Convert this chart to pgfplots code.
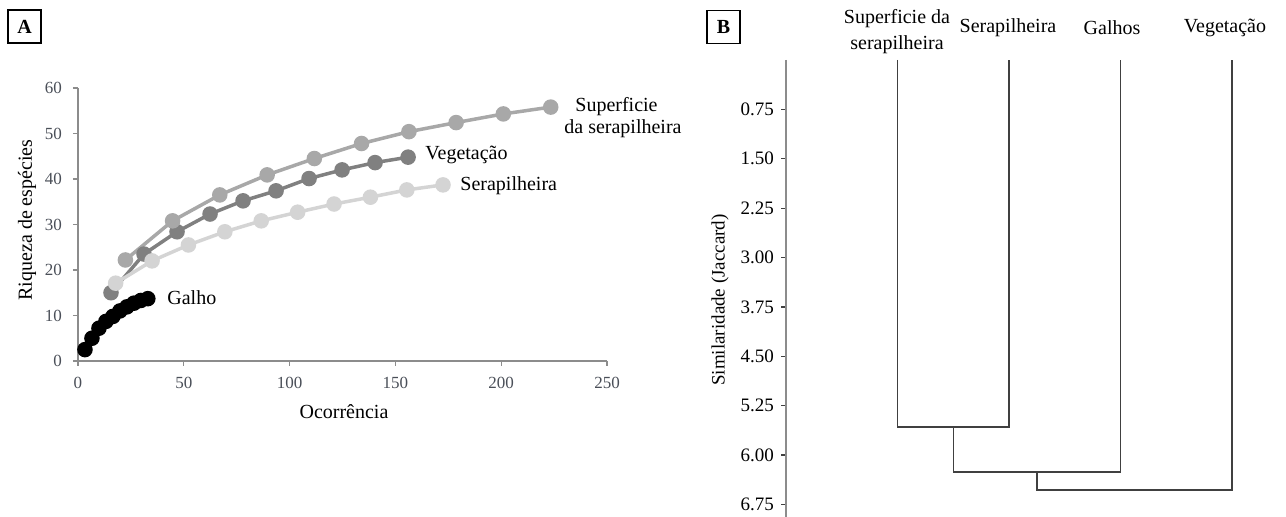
\documentclass[border=0pt]{standalone}
\usepackage{fontspec}
\setmainfont{Liberation Serif}
\usepackage{pgfplots}
\pgfplotsset{compat=1.18}
\definecolor{cSup}{HTML}{A8A8A8}
\definecolor{cVeg}{HTML}{808080}
\definecolor{cSer}{HTML}{D4D4D4}
\definecolor{tickgray}{HTML}{4A4F58}
\definecolor{axgray}{HTML}{8C8C8C}
\definecolor{dendro}{HTML}{404040}
\def\px#1#2{({#1*0.5pt},{(517-#2)*0.5pt})}
\begin{document}
\begin{tikzpicture}
\useasboundingbox (0,0) rectangle (643pt,258.5pt);
% Panel A
\begin{axis}[at={(39pt,78pt)}, anchor=south west, scale only axis,
  width=264.5pt, height=136.5pt,
  xmin=0, xmax=250, ymin=0, ymax=60,
  axis x line*=bottom, axis y line*=left,
  axis line style={draw=axgray, line width=1pt, -},
  xtick={0,50,...,250}, ytick={0,10,...,60},
  tick align=outside, major tick length=2.5pt,
  tick style={draw=axgray, line width=0.7pt},
  ticklabel style={font=\fontsize{8.5}{10}\selectfont, text=tickgray},
  /pgf/number format/assume math mode=true,
  yticklabel style={xshift=-2pt}, xticklabel style={yshift=-2pt},
  clip=false]
\addplot[cVeg, line width=1.75pt, mark=*, mark size=3pt, mark options={fill=cVeg, draw=cVeg}] coordinates {
 (15.6,15.0) (31.2,23.5) (46.8,28.4) (62.4,32.3) (78.0,35.2) (93.6,37.4) (109.2,40.1) (124.8,42.0) (140.4,43.6) (156.0,44.8)};
\addplot[cSer, line width=1.75pt, mark=*, mark size=3pt, mark options={fill=cSer, draw=cSer}] coordinates {
 (17.8,17.1) (35.0,22.0) (52.2,25.5) (69.4,28.4) (86.6,30.8) (103.8,32.7) (121.0,34.5) (138.2,36.0) (155.4,37.6) (172.5,38.7)};
\addplot[cSup, line width=1.75pt, mark=*, mark size=3pt, mark options={fill=cSup, draw=cSup}] coordinates {
 (22.4,22.2) (44.7,30.8) (67.0,36.5) (89.4,40.9) (111.7,44.5) (134.0,47.8) (156.4,50.4) (178.7,52.4) (201.0,54.3) (223.4,55.8)};
\addplot[black, line width=1.75pt, mark=*, mark size=3pt, mark options={fill=black, draw=black}] coordinates {
 (3.3,2.5) (6.6,5.0) (9.9,7.2) (13.2,8.7) (16.5,9.8) (19.8,11.0) (23.1,11.9) (26.4,12.7) (29.7,13.3) (33.0,13.7)};
\end{axis}
% Panel B
\begin{axis}[at={(393pt,0pt)}, anchor=south west, scale only axis,
  width=251pt, height=228.5pt,
  xmin=0, xmax=4.5, ymin=0, ymax=6.94, y dir=reverse,
  axis x line=none, axis y line*=left,
  axis line style={draw=axgray, line width=1pt, -},
  ytick={0.75,1.5,2.25,3,3.75,4.5,5.25,6,6.75},
  yticklabel style={/pgf/number format/.cd, fixed, fixed zerofill, precision=2},
  tick align=outside, major tick length=2.5pt,
  tick style={draw=dendro, line width=0.6pt},
  ticklabel style={font=\fontsize{9.5}{11}\selectfont, text=black},
  /pgf/number format/assume math mode=true,
  clip=false]
\addplot[dendro, line width=0.8pt, mark=none] coordinates {(1,0) (1,5.57) (2,5.57) (2,0)};
\addplot[dendro, line width=0.8pt, mark=none] coordinates {(1.5,5.57) (1.5,6.26) (3,6.26) (3,0)};
\addplot[dendro, line width=0.8pt, mark=none] coordinates {(2.25,6.26) (2.25,6.53) (4,6.53) (4,0)};
\end{axis}
% Text
\tikzset{lab/.style={inner sep=0pt, font=\fontsize{10}{12}\selectfont}}
\node[draw, line width=0.6pt, minimum size=16.5pt, inner sep=0pt, font=\bfseries\fontsize{10}{12}\selectfont] at \px{24.5}{26.5} {A};
\node[draw, line width=0.6pt, minimum size=16.5pt, inner sep=0pt, font=\bfseries\fontsize{10}{12}\selectfont] at \px{723.5}{27} {B};
\node[lab, rotate=90] at \px{27}{220} {Riqueza de espécies};
\node[lab] at \px{344}{412} {Ocorrência};
\node[lab, anchor=west] at \px{575}{107} {Superficie};
\node[lab, anchor=west] at \px{564}{129} {da serapilheira};
\node[lab, anchor=west] at \px{425}{155} {Vegetação};
\node[lab, anchor=west] at \px{460}{186} {Serapilheira};
\node[lab, anchor=west] at \px{167}{298} {Galho};
\node[lab] at \px{897}{19} {Superficie da};
\node[lab] at \px{897}{45} {serapilheira};
\node[lab] at \px{1008}{28} {Serapilheira};
\node[lab] at \px{1112}{28} {Galhos};
\node[lab] at \px{1225}{28} {Vegetação};
\node[lab, rotate=90, font=\fontsize{9.5}{11}\selectfont] at \px{720}{300} {Similaridade (Jaccard)};
\end{tikzpicture}
\end{document}
